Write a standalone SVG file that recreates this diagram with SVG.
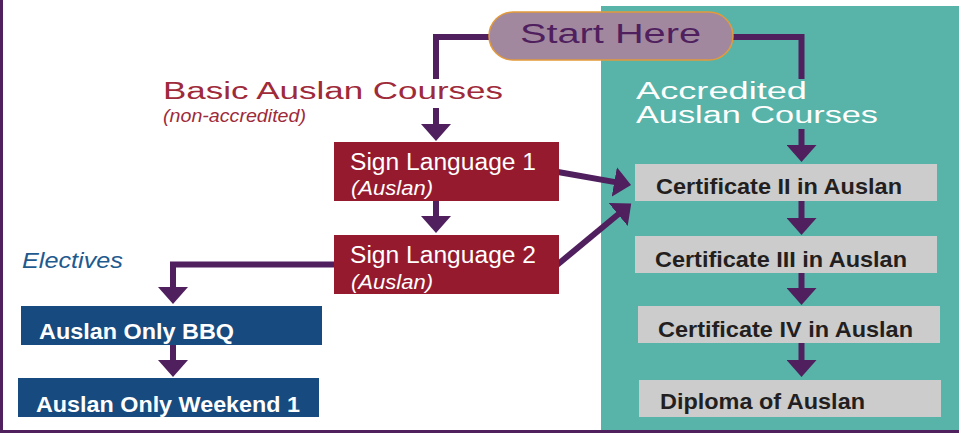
<svg xmlns="http://www.w3.org/2000/svg" width="959" height="433" viewBox="0 0 959 433">
<defs>
<style>
.conn{fill:none;stroke:#4F1F5E;stroke-width:6;stroke-linejoin:miter}
.red{fill:#951A2E}
.blue{fill:#174A7E}
.grey{fill:#CCCCCC}
.wt{fill:#FFFFFF;font-family:"Liberation Sans",Arial,sans-serif;font-size:23px}
.wi{fill:#FFFFFF;font-family:"Liberation Sans",Arial,sans-serif;font-size:20px;font-style:italic}
.bt{fill:#FFFFFF;font-family:"Liberation Sans",Arial,sans-serif;font-size:22px;font-weight:bold}
.ct{fill:#231F20;font-family:"Liberation Sans",Arial,sans-serif;font-size:22px;font-weight:bold}
.head{font-family:"Liberation Sans",Arial,sans-serif;font-size:23px}
</style>
<marker id="ah" markerUnits="userSpaceOnUse" markerWidth="18" markerHeight="30" refX="1" refY="15" orient="auto" viewBox="0 0 18 30">
<path d="M0,0 L17,15 L0,30 Z" fill="#4F1F5E"/>
</marker>
</defs>
<rect x="0" y="0" width="959" height="433" fill="#FFFFFF"/>
<rect id="accredited-panel" x="601" y="6" width="358" height="425" fill="#58B4A9"/>
<rect x="0" y="0" width="3" height="433" fill="#4F1F5E"/>
<rect x="0" y="430" width="959" height="3" fill="#4F1F5E"/>

<g id="connectors">
<path class="conn" d="M490,37 H436 V79"/>
<path class="conn" d="M436,108 V125" marker-end="url(#ah)"/>
<path class="conn" d="M732,37 H801.5 V79"/>
<path class="conn" d="M801.5,129 V146" marker-end="url(#ah)"/>
<path class="conn" d="M436,201 V217" marker-end="url(#ah)"/>
<path class="conn" d="M558,172 L615.3,182.1" marker-end="url(#ah)"/>
<path class="conn" d="M557,265 L618.9,213.8" marker-end="url(#ah)"/>
<path class="conn" d="M334,264.5 H173 V288" marker-end="url(#ah)"/>
<path class="conn" d="M173,345 V361" marker-end="url(#ah)"/>
<path class="conn" d="M801.5,201 V219" marker-end="url(#ah)"/>
<path class="conn" d="M801.5,273 V289" marker-end="url(#ah)"/>
<path class="conn" d="M801.5,343 V361" marker-end="url(#ah)"/>
</g>

<g id="start">
<rect x="489" y="12" width="244" height="48" rx="24" ry="24" fill="#A2889F" stroke="#E39A3A" stroke-width="1.5"/>
<text x="520" y="43" font-family="Liberation Sans,Arial,sans-serif" font-size="27" fill="#4F1F5E" textLength="181" lengthAdjust="spacingAndGlyphs">Start Here</text>
</g>

<g id="basic-label">
<text class="head" x="163" y="99" fill="#9E2A3A" textLength="340" lengthAdjust="spacingAndGlyphs">Basic Auslan Courses</text>
<text x="163" y="122" font-family="Liberation Sans,Arial,sans-serif" font-size="18" font-style="italic" fill="#9E2A3A" textLength="143" lengthAdjust="spacingAndGlyphs">(non-accredited)</text>
</g>

<g id="accredited-label">
<text class="head" x="636" y="99" fill="#FFFFFF" font-size="24" textLength="171" lengthAdjust="spacingAndGlyphs">Accredited</text>
<text class="head" x="636" y="122.7" fill="#FFFFFF" font-size="24" textLength="242" lengthAdjust="spacingAndGlyphs">Auslan Courses</text>
</g>

<g id="electives-label">
<text x="22" y="268" font-family="Liberation Sans,Arial,sans-serif" font-size="22" font-style="italic" fill="#1F5A8F" textLength="101" lengthAdjust="spacingAndGlyphs">Electives</text>
</g>

<g id="sl1">
<rect class="red" x="334" y="142" width="225" height="59"/>
<text class="wt" x="350" y="170" textLength="186" lengthAdjust="spacingAndGlyphs">Sign Language 1</text>
<text class="wi" x="351" y="195" textLength="82" lengthAdjust="spacingAndGlyphs">(Auslan)</text>
</g>

<g id="sl2">
<rect class="red" x="334" y="235" width="225" height="59"/>
<text class="wt" x="350" y="263" textLength="186" lengthAdjust="spacingAndGlyphs">Sign Language 2</text>
<text class="wi" x="351" y="289" textLength="82" lengthAdjust="spacingAndGlyphs">(Auslan)</text>
</g>

<g id="bbq">
<rect class="blue" x="21" y="306" width="301" height="39"/>
<text class="bt" x="39" y="339" textLength="195" lengthAdjust="spacingAndGlyphs">Auslan Only BBQ</text>
</g>

<g id="weekend">
<rect class="blue" x="18" y="378" width="301" height="39"/>
<text class="bt" x="36" y="411.5" textLength="264" lengthAdjust="spacingAndGlyphs">Auslan Only Weekend 1</text>
</g>

<g id="cert2">
<rect class="grey" x="635" y="164" width="302" height="37"/>
<text class="ct" x="656" y="194" textLength="246" lengthAdjust="spacingAndGlyphs">Certificate II in Auslan</text>
</g>

<g id="cert3">
<rect class="grey" x="635" y="236" width="302" height="37"/>
<text class="ct" x="655" y="266.5" textLength="252" lengthAdjust="spacingAndGlyphs">Certificate III in Auslan</text>
</g>

<g id="cert4">
<rect class="grey" x="638" y="306" width="302" height="37"/>
<text class="ct" x="658" y="336.5" textLength="255" lengthAdjust="spacingAndGlyphs">Certificate IV in Auslan</text>
</g>

<g id="diploma">
<rect class="grey" x="639" y="380" width="302" height="37"/>
<text class="ct" x="660" y="409" textLength="205" lengthAdjust="spacingAndGlyphs">Diploma of Auslan</text>
</g>
</svg>
